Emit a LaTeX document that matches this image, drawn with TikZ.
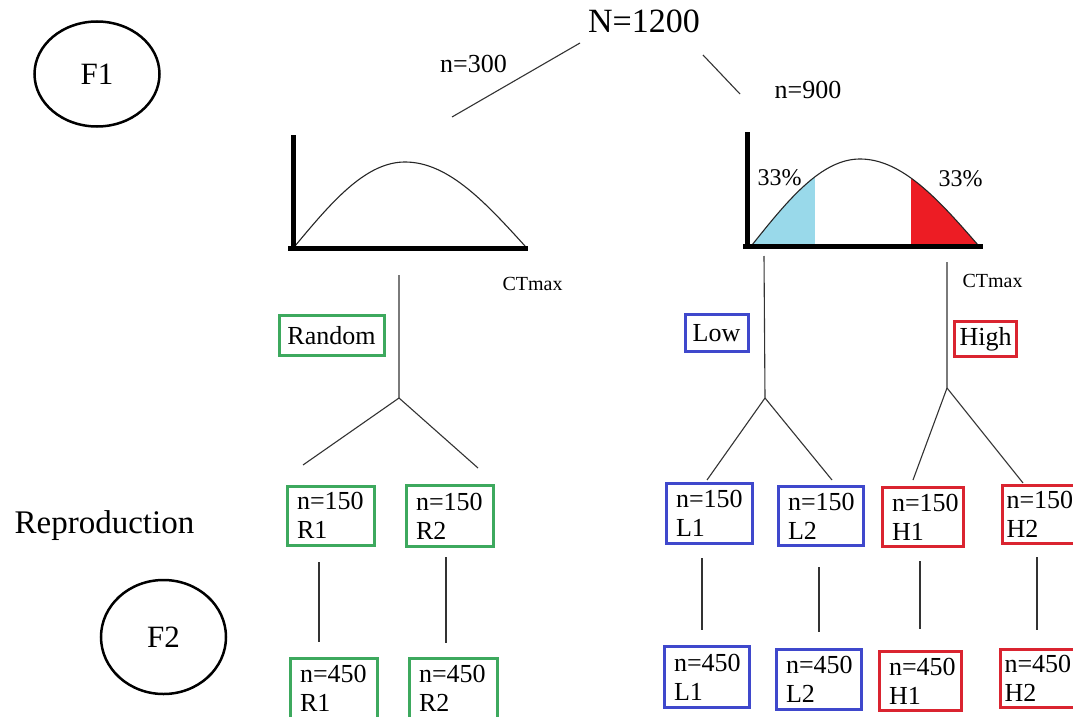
\documentclass[tikz,border=0pt]{standalone}
\usepackage{fontspec}
\setmainfont{Liberation Serif}
\newfontfamily\tms{Liberation Serif}
\usetikzlibrary{shapes.geometric}
\definecolor{boxgreen}{HTML}{3DA95E}
\definecolor{boxblue}{HTML}{3F48CC}
\definecolor{boxred}{HTML}{DA2430}
\definecolor{fillblue}{HTML}{99D9EA}
\definecolor{fillred}{HTML}{ED1C24}
\newcommand{\fsz}[1]{\tms\fontsize{#1}{1.12\dimexpr #1pt\relax}\selectfont}
\tikzset{
  conn/.style={draw=black!80, line width=1.1pt},
  axisline/.style={line width=5pt},
  bell/.style={line width=1.1pt, draw=black!85},
  lbl/.style={anchor=base, inner sep=0pt},
  dbox/.style={line width=3pt, inner xsep=10pt, inner ysep=0pt, align=left,
    font=\fsz{26}},
  tbox/.style={draw=#1, line width=3pt, inner sep=0pt, font=\fsz{26}},
  gen/.style={draw, ellipse, line width=2.5pt, inner sep=0pt, font=\fsz{31}},
}
\begin{document}
\begin{tikzpicture}[x=1pt, y=-1pt]
\useasboundingbox (0,0) rectangle (1073,717);
\fill[white] (0,0) rectangle (1073,717);

% generation circles and side label
\node[gen, minimum width=125pt, minimum height=105pt] (f1) at (97,74) {F1};
\node[gen, minimum width=125pt, minimum height=114pt] (f2) at (163.5,637) {F2};
\node[lbl, font=\fsz{33}] (repro) at (104.5,533) {Reproduction};

% top labels
\node[lbl, font=\fsz{34}] (N) at (644,33) {N=1200};
\node[lbl, font=\fsz{26}] (n300) at (473.5,72) {n=300};
\node[lbl, font=\fsz{26}] (n900) at (808,98) {n=900};
\coordinate (sA) at (580,43);
\coordinate (sB) at (452,117);
\coordinate (sC) at (703,55);
\coordinate (sD) at (740,94);
\draw[conn] (sA) -- (sB);
\draw[conn] (sC) -- (sD);

% left distribution
\draw[bell] plot[domain=0:90, samples=40] ({295+110*\x/90},{246-84*sin(\x)})
  -- plot[domain=90:180, samples=40] ({405+120*(\x-90)/90},{246-84*sin(\x)});
\draw[axisline] (293,135) -- (293,248);
\draw[axisline] (288,248) -- (528,248);
\node[lbl, font=\fsz{20}] (ctL) at (532.5,290) {CTmax};

% right distribution
\begin{scope}
  \clip plot[domain=0:90, samples=40] ({752+108*\x/90},{245-86*sin(\x)})
    -- plot[domain=90:180, samples=40] ({860+118*(\x-90)/90},{245-86*sin(\x)}) -- cycle;
  \fill[fillblue] (752,150) rectangle (815,247);
  \fill[fillred] (911,150) rectangle (980,247);
\end{scope}
\draw[bell] plot[domain=0:90, samples=40] ({752+108*\x/90},{245-86*sin(\x)})
  -- plot[domain=90:180, samples=40] ({860+118*(\x-90)/90},{245-86*sin(\x)});
\draw[axisline] (747,132) -- (747,246);
\draw[axisline] (743,246) -- (983,246);
\node[lbl, font=\fsz{24}] (pL) at (779.5,185) {33\%};
\node[lbl, font=\fsz{24}] (pR) at (960.5,186) {33\%};
\node[lbl, font=\fsz{20}] (ctR) at (992.5,287) {CTmax};

% selection labels
\node[tbox=boxgreen, minimum width=105pt, minimum height=40pt] (random) at (331.5,335.5) {Random};
\node[tbox=boxblue, minimum width=63pt, minimum height=37pt] (low) at (716.5,333) {Low};
\node[tbox=boxred, minimum width=62pt, minimum height=35pt] (high) at (985.5,339) {High};

% branching trees
\coordinate (rA) at (399,275); \coordinate (rB) at (399,398);
\coordinate (rC) at (303,465); \coordinate (rD) at (478,468);
\draw[conn] (rA) -- (rB) -- (rC);
\draw[conn] (rB) -- (rD);
\coordinate (lA) at (764,256); \coordinate (lB) at (765,398);
\coordinate (lC) at (707,480); \coordinate (lD) at (832,480);
\draw[conn] (lA) -- (lB) -- (lC);
\draw[conn] (lB) -- (lD);
\coordinate (hA) at (947,262); \coordinate (hB) at (947,388);
\coordinate (hC) at (913,480); \coordinate (hD) at (1023,483);
\draw[conn] (hA) -- (hB) -- (hC);
\draw[conn] (hB) -- (hD);

% F1 selected groups
\node[dbox, draw=boxgreen, text width=67pt, minimum height=59pt] (r1a) at (330.5,515.5) {n=150\\R1};
\node[dbox, draw=boxgreen, text width=67pt, minimum height=61pt] (r2a) at (449.5,516) {n=150\\R2};
\node[dbox, draw=boxblue, text width=66pt, minimum height=60pt] (l1a) at (709,513.5) {n=150\\L1};
\node[dbox, draw=boxblue, text width=65pt, minimum height=59pt] (l2a) at (820.5,516) {n=150\\L2};
\node[dbox, draw=boxred, text width=61pt, minimum height=59pt] (h1a) at (922.5,517) {n=150\\H1};
\node[dbox, draw=boxred, inner xsep=4pt, text width=66pt, minimum height=58pt, anchor=west] (h2a) at (1001,514.5) {n=150\\H2};

% reproduction lines
\coordinate (v1a) at (319,562); \coordinate (v1b) at (319,642);
\coordinate (v2a) at (446,557); \coordinate (v2b) at (446,643);
\coordinate (v3a) at (702,558); \coordinate (v3b) at (702,630);
\coordinate (v4a) at (819,567); \coordinate (v4b) at (819,632);
\coordinate (v5a) at (920,561); \coordinate (v5b) at (920,629);
\coordinate (v6a) at (1037,557); \coordinate (v6b) at (1037,630);
\draw[conn] (v1a) -- (v1b);
\draw[conn] (v2a) -- (v2b);
\draw[conn] (v3a) -- (v3b);
\draw[conn] (v4a) -- (v4b);
\draw[conn] (v5a) -- (v5b);
\draw[conn] (v6a) -- (v6b);

% F2 groups
\node[dbox, draw=boxgreen, text width=67pt, minimum height=60pt] (r1b) at (333.5,688) {n=450\\R1};
\node[dbox, draw=boxgreen, text width=68pt, minimum height=60pt] (r2b) at (453,688) {n=450\\R2};
\node[dbox, draw=boxblue, text width=65pt, minimum height=61pt] (l1b) at (706.5,677) {n=450\\L1};
\node[dbox, draw=boxblue, text width=65pt, minimum height=60pt] (l2b) at (818.5,679.5) {n=450\\L2};
\node[dbox, draw=boxred, text width=62pt, minimum height=59pt] (h1b) at (920,681) {n=450\\H1};
\node[dbox, draw=boxred, inner xsep=4pt, text width=66pt, minimum height=58pt, anchor=west] (h2b) at (999,678.5) {n=450\\H2};
\end{tikzpicture}
\end{document}
